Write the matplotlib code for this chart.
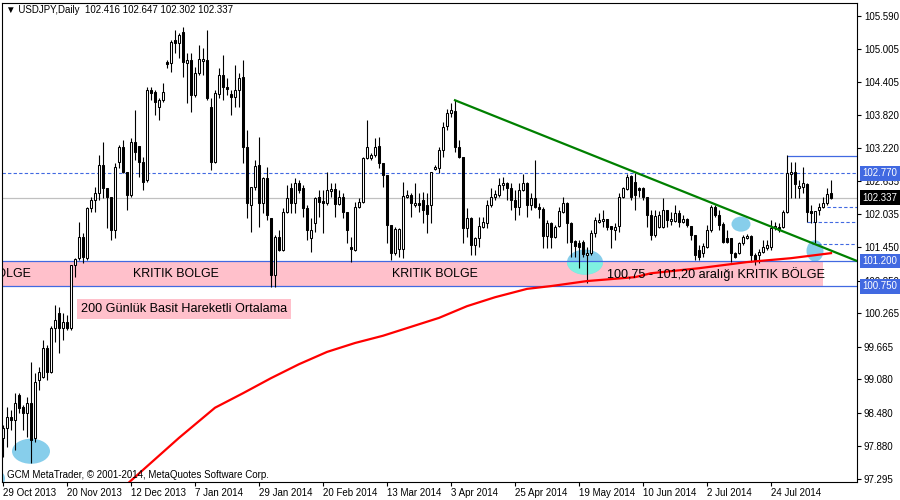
import numpy as np
import matplotlib
matplotlib.use("Agg")
import matplotlib.pyplot as plt
from matplotlib.patches import Ellipse, Rectangle

plt.rcParams['font.family'] = ['Liberation Sans', 'DejaVu Sans']

# --- data -----------------------------------------------------------------
symbol = "USDJPY,Daily"

opens = [98.03, 98.21, 98.40, 98.35, 98.80, 98.58, 98.48, 98.66, 98.03, 99.07,
         99.12, 99.64, 99.21, 99.99, 100.27, 99.99, 100.10, 99.99, 101.13, 101.26,
         101.63, 101.26, 102.15, 102.29, 102.42, 102.92, 102.51, 102.35, 101.76, 102.97,
         103.24, 102.79, 102.38, 103.33, 103.26, 102.97, 102.65, 104.26, 104.23, 103.96,
         104.08, 104.77, 104.75, 105.16, 105.11, 105.30, 104.75, 104.80, 104.17, 104.57,
         104.78, 104.80, 103.96, 102.97, 104.19, 104.53, 104.32, 104.19, 104.14, 104.26,
         104.50, 103.24, 102.20, 102.53, 102.92, 102.24, 102.69, 101.97, 100.95, 101.63,
         101.40, 102.08, 102.51, 102.24, 102.60, 102.51, 102.15, 101.61, 101.88, 102.35,
         102.27, 102.24, 102.45, 102.49, 102.22, 102.35, 102.08, 101.45, 101.40, 102.17,
         102.26, 103.05, 103.05, 103.10, 103.26, 102.96, 102.74, 101.85, 101.34, 101.42,
         101.42, 102.35, 102.38, 102.20, 102.24, 102.29, 102.20, 102.20, 102.85, 102.87,
         103.19, 103.62, 103.85, 103.89, 103.24, 103.06, 101.79, 101.97, 101.49, 101.61,
         101.81, 101.88, 102.20, 102.35, 102.38, 102.56, 102.60, 102.51, 102.29, 102.17,
         102.47, 102.60, 102.20, 102.33, 102.17, 102.13, 101.65, 101.88, 101.63, 101.83,
         102.08, 102.24, 101.88, 101.56, 101.52, 101.54, 101.31, 101.34, 101.70, 101.90,
         101.92, 101.95, 101.83, 101.76, 101.83, 102.35, 102.49, 102.72, 102.61, 102.51,
         102.51, 102.35, 102.02, 101.67, 101.81, 101.81, 102.11, 101.92, 101.92, 102.06,
         101.90, 101.95, 101.83, 101.67, 101.40, 101.34, 101.45, 101.76, 102.17, 102.02,
         101.86, 101.61, 101.61, 101.34, 101.34, 101.52, 101.61, 101.65, 101.31, 101.31,
         101.36, 101.43, 101.45, 101.79, 101.81, 101.81, 102.08, 102.76, 102.79, 102.51,
         102.53, 102.58, 102.10, 101.90, 102.11, 102.17, 102.24, 102.416]

highs = [98.26, 98.58, 98.53, 98.84, 98.84, 98.62, 98.76, 99.39, 99.20, 99.30,
         99.78, 99.69, 100.03, 100.41, 100.37, 100.27, 100.23, 101.13, 101.26, 101.90,
         101.70, 102.17, 102.35, 102.53, 103.10, 103.33, 102.51, 102.35, 102.96, 103.28,
         103.37, 102.79, 103.40, 103.91, 103.26, 103.06, 104.32, 104.32, 104.26, 104.12,
         104.39, 104.80, 105.16, 105.34, 105.29, 105.39, 104.93, 104.93, 104.68, 105.07,
         105.02, 105.34, 104.12, 104.26, 104.66, 104.89, 104.48, 104.26, 104.71, 104.57,
         104.80, 103.55, 102.53, 103.01, 103.42, 102.70, 102.88, 101.97, 101.67, 101.76,
         102.15, 102.56, 102.60, 102.69, 102.65, 102.56, 102.20, 101.97, 102.35, 102.47,
         102.47, 102.79, 102.60, 102.60, 102.47, 102.42, 102.08, 101.63, 102.26, 102.33,
         103.06, 103.73, 103.13, 103.40, 103.42, 102.96, 102.74, 101.85, 101.81, 101.79,
         102.61, 102.47, 102.42, 102.60, 102.42, 102.44, 102.42, 102.79, 102.92, 103.24,
         103.69, 103.92, 104.03, 104.08, 103.37, 103.06, 102.15, 101.99, 101.63, 101.99,
         101.99, 102.29, 102.51, 102.47, 102.69, 102.70, 102.61, 102.60, 102.47, 102.60,
         102.76, 102.62, 102.42, 103.01, 102.24, 102.17, 101.93, 101.90, 101.85, 102.17,
         102.35, 102.26, 101.90, 101.58, 101.58, 101.58, 101.45, 101.76, 101.99, 102.06,
         102.11, 101.96, 101.83, 101.88, 102.42, 102.53, 102.76, 102.74, 102.78, 102.53,
         102.53, 102.35, 102.11, 102.11, 102.10, 102.33, 102.11, 102.08, 102.20, 102.11,
         102.02, 101.97, 101.83, 101.67, 101.49, 101.52, 101.85, 102.20, 102.20, 102.11,
         101.90, 101.76, 101.61, 101.36, 101.54, 101.67, 101.68, 101.67, 101.34, 101.41,
         101.58, 101.58, 101.93, 101.90, 101.88, 102.11, 103.10, 102.97, 102.97, 102.65,
         102.88, 102.60, 102.20, 102.10, 102.24, 102.35, 102.51, 102.647]

lows = [97.68, 97.86, 98.17, 97.81, 98.48, 98.17, 98.04, 97.58, 97.95, 98.89,
        99.10, 99.07, 99.20, 99.74, 99.55, 99.78, 99.96, 99.96, 100.91, 101.22,
        101.17, 101.22, 102.08, 102.08, 102.29, 102.33, 101.79, 101.58, 101.61, 102.87,
        102.78, 102.11, 102.35, 103.01, 102.70, 102.47, 102.61, 104.08, 103.82, 103.73,
        104.05, 104.66, 104.59, 104.93, 104.84, 104.50, 104.03, 103.87, 104.14, 104.53,
        104.53, 104.08, 102.83, 102.96, 104.12, 104.08, 104.17, 103.82, 103.96, 103.96,
        102.96, 101.97, 101.72, 102.47, 101.81, 102.06, 101.93, 100.73, 100.73, 101.38,
        101.38, 102.06, 102.06, 102.06, 102.42, 101.99, 101.58, 101.36, 101.72, 101.99,
        101.70, 102.20, 102.35, 101.99, 102.20, 101.97, 101.52, 101.19, 101.38, 102.15,
        102.24, 103.03, 103.01, 103.06, 102.87, 102.53, 101.52, 101.22, 101.31, 101.27,
        101.25, 102.33, 101.99, 102.17, 102.08, 101.88, 101.70, 101.88, 102.83, 102.78,
        103.06, 103.55, 103.78, 103.15, 103.04, 101.52, 101.63, 101.31, 101.31, 101.45,
        101.79, 101.79, 102.17, 102.29, 102.35, 102.47, 102.29, 102.11, 101.93, 102.02,
        102.45, 101.99, 102.11, 102.15, 101.97, 101.43, 101.43, 101.43, 101.61, 101.81,
        102.06, 101.52, 101.27, 101.27, 101.07, 101.27, 100.80, 101.31, 101.63, 101.88,
        101.81, 101.76, 101.43, 101.58, 101.72, 102.33, 102.47, 102.29, 102.11, 102.35,
        102.29, 101.81, 101.58, 101.63, 101.79, 101.79, 101.81, 101.85, 101.90, 101.81,
        101.88, 101.81, 101.58, 101.22, 101.22, 101.27, 101.44, 101.72, 101.99, 101.76,
        101.52, 101.52, 101.19, 101.25, 101.32, 101.49, 101.59, 101.19, 101.13, 101.17,
        101.34, 101.40, 101.40, 101.76, 101.72, 101.79, 102.06, 102.33, 102.33, 102.33,
        102.42, 101.90, 101.88, 101.52, 102.02, 102.15, 102.20, 102.302]

closes = [98.21, 98.40, 98.35, 98.66, 98.57, 98.48, 98.66, 97.99, 99.03, 99.21,
          99.64, 99.21, 99.99, 100.14, 99.99, 100.10, 99.99, 101.13, 101.24, 101.63,
          101.27, 102.15, 102.29, 102.42, 102.92, 102.51, 102.35, 101.76, 102.88, 103.24,
          102.79, 102.38, 103.33, 103.15, 102.97, 102.61, 104.26, 104.21, 104.05, 104.08,
          104.23, 104.73, 105.12, 105.11, 105.25, 104.77, 104.80, 104.17, 104.57, 104.82,
          104.82, 104.12, 102.97, 104.21, 104.53, 104.32, 104.28, 104.14, 104.26, 104.48,
          103.24, 102.24, 102.53, 102.90, 102.24, 102.69, 102.02, 100.95, 101.63, 101.40,
          102.08, 102.33, 102.24, 102.60, 102.47, 102.15, 101.76, 101.76, 102.33, 102.26,
          102.24, 102.47, 102.49, 102.22, 102.35, 102.08, 101.76, 101.42, 102.17, 102.26,
          103.05, 103.24, 103.10, 103.24, 102.96, 102.74, 101.85, 101.34, 101.77, 101.77,
          102.36, 102.38, 102.24, 102.24, 102.20, 102.11, 102.04, 102.79, 102.88, 103.19,
          103.60, 103.85, 103.91, 103.24, 103.06, 101.79, 101.97, 101.49, 101.61, 101.83,
          101.90, 102.20, 102.35, 102.40, 102.56, 102.60, 102.51, 102.29, 102.17, 102.47,
          102.60, 102.20, 102.33, 102.17, 102.13, 101.65, 101.88, 101.63, 101.81, 102.10,
          102.24, 101.88, 101.54, 101.47, 101.45, 101.32, 101.34, 101.70, 101.93, 101.93,
          101.95, 101.81, 101.77, 101.81, 102.35, 102.51, 102.70, 102.35, 102.38, 102.47,
          102.35, 102.02, 101.67, 102.00, 102.02, 102.11, 101.93, 101.95, 102.06, 101.90,
          101.95, 101.85, 101.67, 101.31, 101.27, 101.47, 101.76, 102.17, 102.02, 101.85,
          101.54, 101.54, 101.34, 101.27, 101.52, 101.63, 101.65, 101.31, 101.22, 101.36,
          101.45, 101.49, 101.79, 101.83, 101.76, 102.08, 102.78, 102.79, 102.58, 102.54,
          102.60, 102.08, 102.06, 102.10, 102.17, 102.24, 102.40, 102.337]

date_ticks = [0, 16, 32, 48, 64, 80, 96, 112, 128, 144, 160, 176, 192]
date_labels = ['29 Oct 2013', '20 Nov 2013', '12 Dec 2013', '7 Jan 2014',
               '29 Jan 2014', '20 Feb 2014', '13 Mar 2014', '3 Apr 2014',
               '25 Apr 2014', '19 May 2014', '10 Jun 2014', '2 Jul 2014',
               '24 Jul 2014']
price_ticks = [105.590, 105.005, 104.405, 103.820, 103.220, 102.635, 102.035,
               101.450, 100.850, 100.265, 99.665, 99.080, 98.480, 97.880, 97.295]

# 200 günlük SMA (okunan noktalar)
ma200_idx = [31, 44, 53, 60, 67, 74, 81, 88, 95, 102, 109, 116, 123, 131,
             137, 146, 158, 162, 174, 186, 197, 207]
ma200_val = [97.20, 98.03, 98.57, 98.83, 99.10, 99.35, 99.57, 99.73, 99.86,
             100.02, 100.18, 100.39, 100.55, 100.70, 100.75, 100.84, 100.91,
             100.98, 101.07, 101.18, 101.25, 101.34]

# trend line
trend_idx = [113, 213.5]
trend_val = [104.08, 101.20]

level_res = 102.770
crit_hi = 101.200
crit_lo = 100.750
crit_end = 205
short_levels = [102.17, 101.89, 101.50]
short_starts = [206, 201, 202.25]
box_top = 103.08
box_start = 196

# --- figure ---------------------------------------------------------------
blue = '#4169E1'
fig = plt.figure(figsize=(9, 5), dpi=100)
ax = fig.add_axes([1.5 / 900, 18 / 500, 855.5 / 900, 479 / 500])
ax.set_xlim(-0.375, 213.5)
ax.set_ylim(97.239, 105.823)

o = np.array(opens)
h = np.array(highs)
l = np.array(lows)
c = np.array(closes)
x = np.arange(len(c))

# kritik bölge
band = Rectangle((-1, crit_lo), crit_end + 1, crit_hi - crit_lo,
                 facecolor='#FFC0CB', edgecolor='none', zorder=1)
ax.add_patch(band)

# işaretler (elipsler)
for cx, cy, w, hh in [(7.0, 97.79, 9.5, 0.45), (-2.5, 97.30, 6, 0.35),
                      (145.5, 101.18, 9.0, 0.45), (184.5, 101.86, 4.75, 0.27),
                      (203.0, 101.38, 4.25, 0.38)]:
    ax.add_patch(Ellipse((cx, cy), w, hh, facecolor='#87CEEB',
                         edgecolor='none', zorder=1.2))
e2 = Ellipse((145.5, 101.18), 9.0, 0.45, facecolor='#7FF0E0',
             edgecolor='none', zorder=1.3)
ax.add_patch(e2)
e2.set_clip_path(band)

# yatay çizgiler
ax.axhline(level_res, color=blue, lw=0.8, ls=(0, (3, 2)), zorder=1.5)
ax.axhline(crit_hi, color=blue, lw=0.9, zorder=1.5)
ax.axhline(crit_lo, color=blue, lw=0.9, zorder=1.5)
ax.axhline(c[-1], color='#C0C0C0', lw=0.9, zorder=1.4)
for lv, st in zip(short_levels, short_starts):
    ax.hlines(lv, st, 213.5, color=blue, lw=0.8, ls=(0, (3, 2)), zorder=1.5)
ax.hlines(box_top, box_start, 213.5, color=blue, lw=0.9, zorder=1.5)

# mumlar
ax.vlines(x, l, h, color='black', lw=0.8, zorder=2)
bull = c >= o
ax.bar(x, np.maximum(np.abs(c - o), 0.012), bottom=np.minimum(o, c),
       width=0.65, color=np.where(bull, 'white', 'black'),
       edgecolor='black', linewidth=0.75, zorder=2.1)

# SMA ve trend
ax.plot(ma200_idx, ma200_val, color='red', lw=1.6, zorder=3)
ax.plot(trend_idx, trend_val, color='green', lw=1.6, zorder=3)

# yazılar
for tx in [-3.75, 43.25, 108.1]:
    ax.text(tx, 100.975, 'KRITIK BOLGE', fontsize=8.9, ha='center',
            va='center', zorder=4, clip_on=True)
ax.text(178.3, 100.965, '100,75 - 101,20 aralığı KRITIK BÖLGE', fontsize=9.1,
        ha='center', va='center', zorder=4)
ax.text(45.3, 100.34, '200 Günlük Basit Hareketli Ortalama', fontsize=9.1,
        ha='center', va='center', zorder=4,
        bbox=dict(boxstyle='square,pad=0.3', fc='#FFC0CB', ec='none'))

# eksenler
for sp in ax.spines.values():
    sp.set_color('black')
    sp.set_linewidth(0.8)
ax.set_xticks(date_ticks)
ax.set_xticklabels(date_labels, ha='left')
ax.tick_params(axis='x', direction='out', length=3, width=0.8, pad=1.5,
               labelsize=7)
ax.yaxis.tick_right()
ax.set_yticks(price_ticks)
ax.set_yticklabels([f'{p:.3f}' for p in price_ticks])
ax.tick_params(axis='y', direction='out', length=3, width=0.8, pad=2,
               labelsize=7)

for val, fc in [(level_res, blue), (c[-1], 'black'), (crit_hi, blue),
                (crit_lo, blue)]:
    ax.annotate(f'{val:.3f}', xy=(1, val), xycoords=ax.get_yaxis_transform(),
                xytext=(3.8, 0), textcoords='offset points', ha='left',
                va='center', fontsize=7, color='white', zorder=6,
                annotation_clip=False,
                bbox=dict(boxstyle='square,pad=0.25', fc=fc, ec='none'))

fig.text(6 / 900, 1 - 10 / 500,
         f'▼ {symbol}  {o[-1]:.3f} {h[-1]:.3f} {l[-1]:.3f} {c[-1]:.3f}',
         fontsize=7, va='center')
fig.text(7 / 900, 1 - 475 / 500,
         'GCM MetaTrader, © 2001-2014, MetaQuotes Software Corp.',
         fontsize=7, va='center')

fig.savefig('out.png', dpi=100)
